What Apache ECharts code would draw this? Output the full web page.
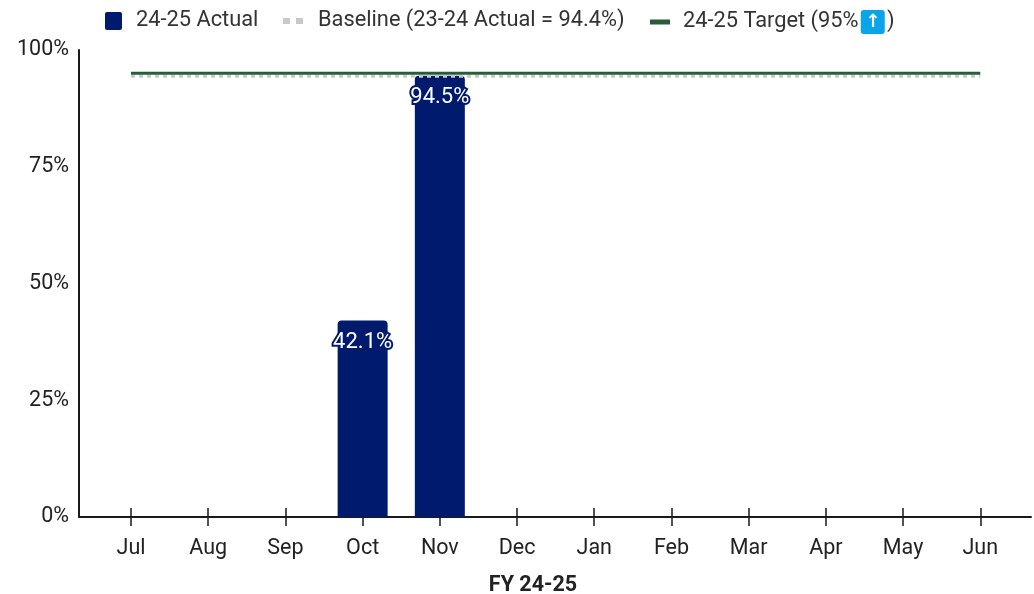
<!DOCTYPE html>
<html>
<head>
<meta charset="utf-8">
<title>FY 24-25</title>
<script src="https://cdn.jsdelivr.net/npm/echarts@6/dist/echarts.min.js"></script>
<style>
  html, body { margin: 0; padding: 0; background: #fff; }
  #chart { width: 1034px; height: 594px; }
</style>
</head>
<body>
<div id="chart"></div>
<script>
const months = ['Jul', 'Aug', 'Sep', 'Oct', 'Nov', 'Dec', 'Jan', 'Feb', 'Mar', 'Apr', 'May', 'Jun'];
const actualValues = [null, null, null, 42.1, 94.5, null, null, null, null, null, null, null];
const baselineValues = [94.4, 94.4, 94.4, 94.4, 94.4, 94.4, 94.4, 94.4, 94.4, 94.4, 94.4, 94.4];
const targetValues = [95, 95, 95, 95, 95, 95, 95, 95, 95, 95, 95, 95];
const yTicks = [0, 25, 50, 75, 100];

const FONT = 'Roboto';
const TEXT = '#222222';
const AXIS = '#1a1a1a';
const NAVY = '#001a6e';
const GREEN = '#275d38';
const GREY = '#c9c9c9';

// months sit on a value axis so the axis line can run past Jul and Jun
const monthPositions = months.map((m, i) => i);
const toPoints = values => values.map((v, i) => [i, v]);

const chart = echarts.init(document.getElementById('chart'), null, { renderer: 'canvas' });

const legendText = { fontFamily: FONT, fontSize: 21.8, color: '#333333' };
const hiddenLine = { width: 0, opacity: 0 };

const option = {
  backgroundColor: '#ffffff',
  animation: false,
  textStyle: { fontFamily: FONT },
  grid: { left: 79, right: 3, top: 50, bottom: 77, outerBoundsMode: 'none' },
  legend: [
    {
      left: 100, top: 5, itemWidth: 17, itemHeight: 18, selectedMode: false,
      textStyle: Object.assign({}, legendText, { padding: [0, 0, 0, 9] }),
      data: [{ name: '24-25 Actual', icon: 'path://M2 0H15Q17 0 17 2V16Q17 18 15 18H2Q0 18 0 16V2Q0 0 2 0Z' }]
    },
    {
      left: 278, top: 5, itemWidth: 20, itemHeight: 6, selectedMode: false,
      textStyle: Object.assign({}, legendText, { padding: [0, 0, 0, 10] }),
      lineStyle: hiddenLine,
      data: [{ name: 'Baseline (23-24 Actual = 94.4%)', icon: 'path://M0 0H7V6H0Z M13 0H20V6H13Z' }]
    },
    {
      left: 645, top: 5, itemWidth: 20, itemHeight: 5, selectedMode: false,
      textStyle: Object.assign({}, legendText, {
        padding: [0, 0, 0, 8],
        rich: {
          arrow: {
            backgroundColor: '#0aa5e8', color: '#ffffff', fontFamily: 'DejaVu Sans', fontWeight: 'bold',
            fontSize: 18, width: 24, height: 24, lineHeight: 24, align: 'center', borderRadius: 3
          }
        }
      }),
      lineStyle: hiddenLine,
      formatter: () => '24-25 Target (95%\u200a{arrow|↑}\u200a)',
      data: [{ name: '24-25 Target (95%⬆️)', icon: 'rect' }]
    }
  ],
  xAxis: [
    {
      type: 'value',
      min: -0.6736,
      max: 11.657,
      name: 'FY 24-25',
      nameLocation: 'middle',
      nameGap: 58,
      nameTextStyle: {
        fontFamily: FONT, fontSize: 21.5, fontWeight: 'bold', color: TEXT, padding: [0, 44, 0, 0]
      },
      splitLine: { show: false },
      axisLine: { show: true, onZero: false, lineStyle: { color: AXIS, width: 2 } },
      axisTick: { show: true, length: 9, customValues: monthPositions, lineStyle: { color: AXIS, width: 1.5 } },
      axisLabel: {
        customValues: monthPositions,
        margin: 21,
        fontFamily: FONT,
        fontSize: 21.5,
        color: TEXT,
        showMinLabel: true,
        showMaxLabel: true,
        formatter: v => months[v]
      }
    },
    {
      // only here for the upper half of the ticks, which cross the axis line
      type: 'value',
      position: 'bottom',
      min: -0.6736,
      max: 11.657,
      splitLine: { show: false },
      axisLine: { show: false },
      axisLabel: { show: false },
      axisTick: { show: true, inside: true, length: 9, customValues: monthPositions, lineStyle: { color: AXIS, width: 1.5 } }
    }
  ],
  yAxis: {
    type: 'value',
    min: 0,
    max: 100,
    interval: 25,
    splitLine: { show: false },
    axisLine: { show: true, onZero: false, lineStyle: { color: AXIS, width: 2 } },
    axisTick: { show: false },
    axisLabel: {
      margin: 10,
      padding: [3, 0, 0, 0],
      fontFamily: FONT,
      fontSize: 21.5,
      color: TEXT,
      formatter: v => (yTicks.includes(v) ? v + '%' : '')
    }
  },
  series: [
    {
      name: '24-25 Actual',
      type: 'bar',
      barWidth: 50,
      data: toPoints(actualValues),
      itemStyle: { color: NAVY, borderRadius: [4, 4, 0, 0] },
      label: {
        show: true,
        position: 'insideTop',
        distance: 11,
        fontFamily: FONT,
        fontSize: 22,
        color: '#ffffff',
        textBorderColor: NAVY,
        textBorderWidth: 4,
        formatter: p => p.value[1].toFixed(1) + '%'
      },
      z: 2
    },
    {
      name: 'Baseline (23-24 Actual = 94.4%)',
      type: 'line',
      data: toPoints(baselineValues),
      symbol: 'none',
      lineStyle: { color: GREY, width: 3, type: [4, 4] },
      itemStyle: { color: GREY },
      z: 3
    },
    {
      name: '24-25 Target (95%⬆️)',
      type: 'line',
      data: toPoints(targetValues),
      symbol: 'none',
      lineStyle: { color: GREEN, width: 3 },
      itemStyle: { color: GREEN },
      z: 4
    }
  ]
};

chart.setOption(option);
</script>
</body>
</html>
